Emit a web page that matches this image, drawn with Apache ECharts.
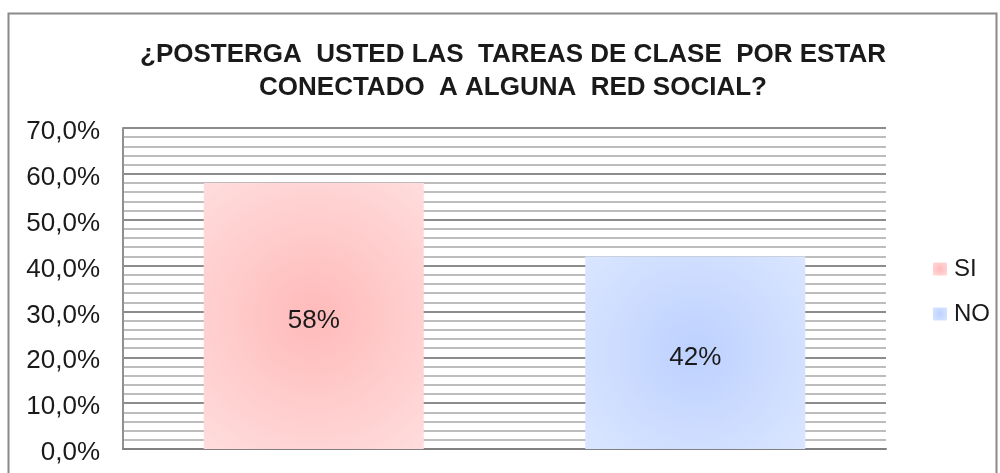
<!DOCTYPE html>
<html>
<head>
<meta charset="utf-8">
<script src="https://cdn.jsdelivr.net/npm/echarts@6/dist/echarts.min.js"></script>
<style>
  html, body { margin: 0; padding: 0; background: #fff; }
  #chart { width: 1000px; height: 473px; }
</style>
</head>
<body>
<div id="chart"></div>
<script>
// datos
var categorias = ['SI', 'NO'];
var valores = [58, 42];
var ticksY = [0, 10, 20, 30, 40, 50, 60, 70];

var chart = echarts.init(document.getElementById('chart'));

function grad(centro, borde) {
  return {
    type: 'radial', x: 0.5, y: 0.5, r: 0.9,
    colorStops: [{ offset: 0, color: centro }, { offset: 1, color: borde }]
  };
}
var colores = [grad('#ffbaba', '#ffe2e2'), grad('#bdd1ff', '#e0eaff')];
var legendColor = ['#ffbcbc', '#c2d5ff'];

var series = [];
for (var i = 0; i < categorias.length; i++) {
  var d = [];
  for (var j = 0; j < categorias.length; j++) d.push(i == j ? valores[i] : '-');
  series.push({
    name: categorias[i],
    type: 'bar',
    stack: 'total',
    barWidth: 220,
    data: d,
    itemStyle: { color: colores[i] },
    label: {
      show: true,
      position: 'inside',
      offset: [0, 5],
      formatter: function (p) { return p.value + '%'; },
      color: '#1a1a1a',
      fontSize: 26,
      fontFamily: 'Liberation Sans, Arial'
    }
  });
}

chart.setOption({
  animation: false,
  color: legendColor,
  title: {
    text: '¿POSTERGA  USTED LAS  TAREAS DE CLASE  POR ESTAR\nCONECTADO  A ALGUNA  RED SOCIAL?',
    left: 508,
    top: 33,
    textAlign: 'center',
    textStyle: {
      fontFamily: 'Liberation Sans, Arial',
      fontWeight: 'bold',
      fontSize: 26,
      lineHeight: 33,
      color: '#1a1a1a'
    }
  },
  legend: {
    orient: 'vertical',
    left: 928,
    top: 252,
    itemWidth: 14,
    itemHeight: 13,
    itemGap: 21,
    icon: 'rect',
    textStyle: { fontSize: 24, fontFamily: 'Liberation Sans, Arial', color: '#1a1a1a', padding: [0, 0, 0, 2] },
    data: categorias
  },
  grid: { left: 123, right: 114, top: 128, bottom: 24 },
  xAxis: {
    type: 'category',
    data: categorias,
    axisLabel: { show: false },
    axisTick: { show: false },
    axisLine: { lineStyle: { color: '#808080', width: 2 } }
  },
  yAxis: {
    type: 'value',
    min: ticksY[0],
    max: ticksY[ticksY.length - 1],
    interval: 10,
    axisLabel: {
      formatter: function (v) { return '{v|' + v + ',0%}'; },
      margin: 23,
      rich: {
        v: {
          fontSize: 26,
          fontFamily: 'Liberation Sans, Arial',
          color: '#1a1a1a',
          padding: [8, 0, 0, 0]
        }
      }
    },
    axisLine: { show: true, lineStyle: { color: '#909090', width: 2 } },
    axisTick: { show: false },
    splitLine: { lineStyle: { color: '#8c8c8c', width: 2 } },
    minorTick: { show: false, splitNumber: 5 },
    minorSplitLine: { show: true, lineStyle: { color: '#bdbdbd', width: 2 } }
  },
  graphic: [{
    type: 'rect',
    shape: { x: 8.5, y: 13.5, width: 988, height: 470 },
    style: { fill: null, stroke: '#8a8a8a', lineWidth: 2 },
    silent: true
  }],
  series: series
});
</script>
</body>
</html>
